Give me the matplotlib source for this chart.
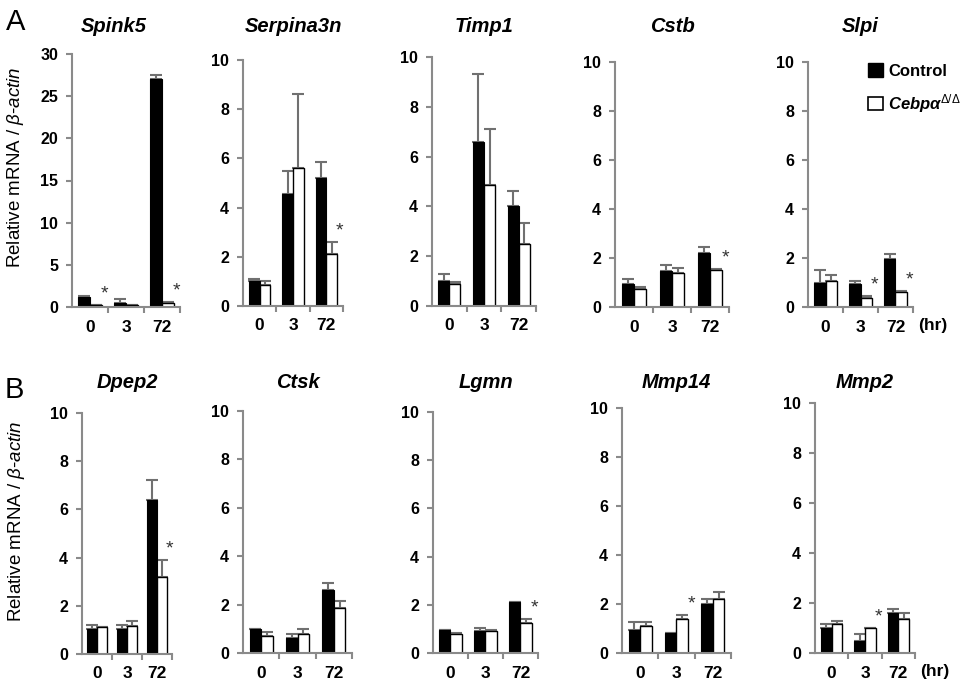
import matplotlib
matplotlib.use("Agg")
import matplotlib.pyplot as plt
from matplotlib.patches import Patch

plt.rcParams['font.family'] = ['Liberation Sans', 'DejaVu Sans']
plt.rcParams['mathtext.fontset'] = 'custom'
plt.rcParams['mathtext.rm'] = 'Liberation Sans'
plt.rcParams['mathtext.it'] = 'Liberation Sans:italic'
plt.rcParams['mathtext.bf'] = 'Liberation Sans:bold'

# time points (hr)
times = ['0', '3', '72']

genes = ['Spink5', 'Serpina3n', 'Timp1', 'Cstb', 'Slpi',
         'Dpep2', 'Ctsk', 'Lgmn', 'Mmp14', 'Mmp2']

ctrl_mean = {
    'Spink5': [1.2, 0.5, 27.0], 'Serpina3n': [1.0, 4.55, 5.2], 'Timp1': [1.0, 6.6, 4.0],
    'Cstb': [0.95, 1.45, 2.2], 'Slpi': [1.0, 0.95, 1.95], 'Dpep2': [1.05, 1.05, 6.4],
    'Ctsk': [1.0, 0.6, 2.6], 'Lgmn': [0.95, 0.9, 2.1], 'Mmp14': [0.95, 0.8, 2.0],
    'Mmp2': [1.0, 0.5, 1.6],
}
ctrl_err = {
    'Spink5': [0.15, 0.4, 0.5], 'Serpina3n': [0.1, 0.95, 0.65], 'Timp1': [0.3, 2.7, 0.6],
    'Cstb': [0.2, 0.25, 0.25], 'Slpi': [0.5, 0.1, 0.2], 'Dpep2': [0.15, 0.15, 0.8],
    'Ctsk': [0.0, 0.2, 0.3], 'Lgmn': [0.0, 0.15, 0.0], 'Mmp14': [0.3, 0.0, 0.2],
    'Mmp2': [0.15, 0.25, 0.15],
}
ko_mean = {
    'Spink5': [0.2, 0.2, 0.5], 'Serpina3n': [0.85, 5.6, 2.1], 'Timp1': [0.9, 4.85, 2.5],
    'Cstb': [0.75, 1.4, 1.5], 'Slpi': [1.05, 0.35, 0.6], 'Dpep2': [1.1, 1.15, 3.2],
    'Ctsk': [0.7, 0.8, 1.85], 'Lgmn': [0.8, 0.9, 1.25], 'Mmp14': [1.1, 1.4, 2.2],
    'Mmp2': [1.15, 1.0, 1.35],
}
ko_err = {
    'Spink5': [0.05, 0.05, 0.1], 'Serpina3n': [0.15, 3.0, 0.5], 'Timp1': [0.05, 2.25, 0.85],
    'Cstb': [0.05, 0.2, 0.05], 'Slpi': [0.25, 0.1, 0.05], 'Dpep2': [0.0, 0.2, 0.7],
    'Ctsk': [0.15, 0.2, 0.3], 'Lgmn': [0.05, 0.05, 0.15], 'Mmp14': [0.15, 0.15, 0.3],
    'Mmp2': [0.15, 0.0, 0.25],
}
# groups marked with * (significant vs control)
stars = {
    'Spink5': [0, 2], 'Serpina3n': [2], 'Timp1': [], 'Cstb': [2], 'Slpi': [1, 2],
    'Dpep2': [2], 'Ctsk': [], 'Lgmn': [2], 'Mmp14': [1], 'Mmp2': [1],
}
ymax = {g: 10 for g in genes}
ymax['Spink5'] = 30

W, H = 962, 686
# axis boxes in pixels: left, top, right, bottom(zero line)
boxes = {
    'Spink5': (72, 54, 180, 307), 'Serpina3n': (243, 60, 343, 306),
    'Timp1': (432, 57, 536, 306), 'Cstb': (615, 62, 729, 307),
    'Slpi': (808, 62, 913, 307),
    'Dpep2': (82, 413, 172, 654), 'Ctsk': (243, 411, 352, 653),
    'Lgmn': (433, 412, 538, 653), 'Mmp14': (622, 408, 731, 653),
    'Mmp2': (815, 403, 915, 653),
}
# title centre (px) where it is not over the middle of the axes
title_x = {'Spink5': 114}

fig = plt.figure(figsize=(W / 100, H / 100), dpi=100)
spine_c = '#8a8a8a'
bw = 0.32

for g in genes:
    l, t, r, b = boxes[g]
    ax = fig.add_axes([l / W, 1 - b / H, (r - l) / W, (b - t) / H])
    x = range(len(times))
    xc = [i - bw / 2 for i in x]
    xk = [i + bw / 2 for i in x]
    ax.bar(xc, ctrl_mean[g], bw, color='black', edgecolor='black', linewidth=0.8, zorder=2)
    ax.bar(xk, ko_mean[g], bw, color='white', edgecolor='black', linewidth=1.0, zorder=2)
    ax.errorbar(xc, ctrl_mean[g], yerr=[[0] * 3, ctrl_err[g]], fmt='none',
                ecolor='#707070', elinewidth=1.5, capsize=4, capthick=1.5, zorder=1)
    ax.errorbar(xk, ko_mean[g], yerr=[[0] * 3, ko_err[g]], fmt='none',
                ecolor='#707070', elinewidth=1.5, capsize=4, capthick=1.5, zorder=1)
    for i in stars[g]:
        ax.text(xk[i] + 0.24, ko_mean[g][i] + ko_err[g][i] + 0.01 * ymax[g], '*',
                ha='center', va='bottom', fontsize=14, color='#333333')

    ax.set_xlim(-0.5, 2.5)
    ax.set_ylim(0, ymax[g])
    step = 5 if ymax[g] == 30 else 2
    ax.set_yticks(range(0, ymax[g] + 1, step))
    ax.set_xticks(list(x))
    ax.set_xticklabels(times)
    ax.set_xticks([0.5, 1.5, 2.5], minor=True)
    for s in ['top', 'right']:
        ax.spines[s].set_visible(False)
    for s in ['left', 'bottom']:
        ax.spines[s].set_color(spine_c)
        ax.spines[s].set_linewidth(1.5)
    ax.tick_params(axis='y', length=4, width=1.5, color=spine_c, pad=6, labelsize=11.5)
    ax.tick_params(axis='x', which='major', length=0, pad=9, labelsize=12.5)
    ax.tick_params(axis='x', which='minor', length=4, width=1.5, color=spine_c)
    for lab in ax.get_xticklabels() + ax.get_yticklabels():
        lab.set_fontweight('bold')
    ax.patch.set_alpha(0)

    cx = title_x.get(g, (l + r) / 2) / W
    ty = 27 if t < 200 else 383
    fig.text(cx, 1 - ty / H, g, ha='center', va='center', fontsize=14.5,
             fontweight='bold', fontstyle='italic')

    if g in ('Slpi', 'Mmp2'):
        ax.text(1.05, -0.075, '(hr)', transform=ax.transAxes, ha='left', va='center',
                fontsize=12.5, fontweight='bold')

ylab = r'Relative mRNA / $\mathit{\beta}$-$\mathit{actin}$'
fig.text(16 / W, 1 - 167 / H, ylab, rotation=90, ha='center', va='center', fontsize=13.5)
fig.text(17 / W, 1 - 521 / H, ylab, rotation=90, ha='center', va='center', fontsize=13.5)

fig.text(6 / W, 1 - 22 / H, 'A', fontsize=21, ha='left', va='center')
fig.text(5 / W, 1 - 390 / H, 'B', fontsize=21, ha='left', va='center')

handles = [Patch(facecolor='black', edgecolor='black'),
           Patch(facecolor='white', edgecolor='black', linewidth=1.2)]
leg = fig.legend(handles, ['Control', r'Cebpα$^{\Delta/\Delta}$'],
                 loc='upper left', bbox_to_anchor=(853 / W, 1 - 48 / H),
                 frameon=False, handlelength=0.9, handleheight=0.9,
                 handletextpad=0.3, labelspacing=0.8, fontsize=12)
leg.get_texts()[0].set_fontweight('bold')
leg.get_texts()[1].set_fontweight('bold')
leg.get_texts()[1].set_fontstyle('italic')

fig.savefig('out.png', dpi=100)
